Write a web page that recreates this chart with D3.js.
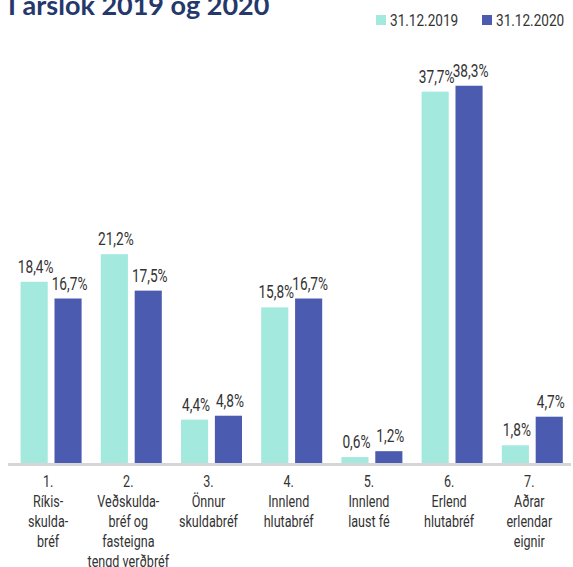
<!DOCTYPE html>
<html>
<head>
<meta charset="utf-8">
<script src="https://cdn.jsdelivr.net/npm/d3@7"></script>
<style>
  body { margin: 0; background: #fff; }
  svg text { font-family: Roboto, "Liberation Sans", sans-serif; }
</style>
</head>
<body>
<script>
// data
const categories = [
  ["1.", "Ríkis-", "skulda-", "bréf"],
  ["2.", "Veðskulda-", "bréf og", "fasteigna", "tengd verðbréf"],
  ["3.", "Önnur", "skuldabréf"],
  ["4.", "Innlend", "hlutabréf"],
  ["5.", "Innlend", "laust fé"],
  ["6.", "Erlend", "hlutabréf"],
  ["7.", "Aðrar", "erlendar", "eignir"]
];
const series = ["31.12.2019", "31.12.2020"];
const values2019 = [18.4, 21.2, 4.4, 15.8, 0.6, 37.7, 1.8];
const values2020 = [16.7, 17.5, 4.8, 16.7, 1.2, 38.3, 4.7];
const colors = ["#a3e9de", "#4b5bb0"];

const width = 573, height = 567;
const base = 463;

// the original font is a narrow DIN, so squeeze a normal one
const squeeze = (x, y, k) => `translate(${x},${y}) scale(${k},1)`;

const svg = d3.select("body").append("svg")
    .attr("width", width)
    .attr("height", height);

// title, top clipped off like the original
svg.append("text")
    .attr("x", 8)
    .attr("y", 15)
    .attr("fill", "#24386c")
    .attr("font-size", 27)
    .attr("font-weight", "bold")
    .style("font-family", "Lato, 'Open Sans', sans-serif")
    .text("Í árslok 2019 og 2020");

var x0 = d3.scaleBand()
    .domain(d3.range(categories.length))
    .range([11, 572.4]);
var x1 = d3.scaleBand()
    .domain(series)
    .range([9.6, 70.6])
    .paddingInner(0.2);
var y = d3.scaleLinear()
    .domain([0, 40])
    .range([base, 69]);

const rows = values2019.map((v, i) => [v, values2020[i]]);

const group = svg.selectAll("g.cat")
  .data(rows)
  .join("g")
    .attr("class", "cat")
    .attr("transform", (d, i) => `translate(${x0(i)},0)`);

group.selectAll("rect")
  .data(d => d.map((v, j) => ({v: v, s: series[j], j: j})))
  .join("rect")
    .attr("x", d => x1(d.s))
    .attr("y", d => y(d.v))
    .attr("width", x1.bandwidth())
    .attr("height", d => base - y(d.v))
    .attr("fill", d => colors[d.j]);

group.selectAll("text.val")
  .data(d => d.map((v, j) => ({v: v, s: series[j]})))
  .join("text")
    .attr("class", "val")
    .attr("transform", d => squeeze(x1(d.s) + x1.bandwidth() / 2 + 1.5, y(d.v) - 9, 0.76))
    .attr("text-anchor", "middle")
    .attr("font-size", 18)
    .attr("fill", "#333")
    .text(d => d3.format(".1f")(d.v).replace(".", ",") + "%");

// axis line
svg.append("line")
    .attr("x1", 8).attr("x2", 571)
    .attr("y1", base + 1.5).attr("y2", base + 1.5)
    .attr("stroke", "#d6d6d6")
    .attr("stroke-width", 3);

// category labels
const lab = svg.selectAll("text.cat")
  .data(categories)
  .join("text")
    .attr("class", "cat")
    .attr("transform", (d, i) => squeeze(x0(i) + x0.bandwidth() / 2 - 3, 487, 0.74))
    .attr("text-anchor", "middle")
    .attr("font-size", 17)
    .attr("fill", "#333");

lab.selectAll("tspan")
  .data(d => d)
  .join("tspan")
    .attr("x", 0)
    .attr("y", (d, k) => k * 20)
    .text(d => d);

// legend
const leg = svg.selectAll("g.leg")
  .data(series)
  .join("g")
    .attr("class", "leg")
    .attr("transform", (d, i) => `translate(${376 + i * 106},15)`);

leg.append("rect")
    .attr("width", 10).attr("height", 10)
    .attr("fill", (d, i) => colors[i]);

leg.append("text")
    .attr("transform", squeeze(14, 11, 0.8))
    .attr("font-size", 17)
    .attr("fill", "#333")
    .text(d => d);
</script>
</body>
</html>
